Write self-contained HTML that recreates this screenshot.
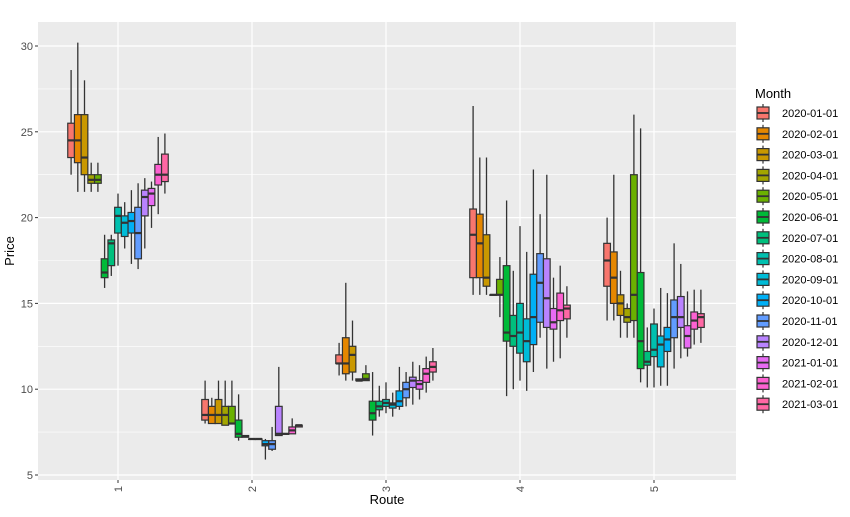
<!DOCTYPE html>
<html><head><meta charset="utf-8"><style>
body{margin:0;background:#fff;width:850px;height:512px;overflow:hidden}
text{font-family:"Liberation Sans",sans-serif}
</style></head><body>
<svg id="chart" width="850" height="512" viewBox="0 0 850 512" xmlns="http://www.w3.org/2000/svg"></svg>
<script>
const routes = ["1","2","3","4","5"];
const months = ["2020-01-01","2020-02-01","2020-03-01","2020-04-01","2020-05-01","2020-06-01","2020-07-01","2020-08-01","2020-09-01","2020-10-01","2020-11-01","2020-12-01","2021-01-01","2021-02-01","2021-03-01"];
const colors = ["#F8766D","#E58700","#C99800","#A3A500","#6BB100","#00BA38","#00BF7D","#00C0AF","#00BCD8","#00B0F6","#619CFF","#B983FF","#E76BF3","#FD61D1","#FF67A4"];
const yTicks = [5,10,15,20,25,30];
// [upper whisker, q3, median, q1, lower whisker] per month, per route
const route1 = [[28.6,25.5,24.5,23.5,22.5],[30.2,26,24.5,23.2,21.5],[28,26,23.5,22.5,21.5],[23.2,22.5,22.2,22,21.5],[23.2,22.5,22.2,22,21.5],[19,17.6,16.8,16.5,15.9],[19,18.7,18.5,17.2,16.6],[21.4,20.6,20.1,19.1,17.2],[20.9,20.1,19.7,18.9,18.2],[21.6,20.3,19.8,19.1,17.3],[22,20.6,19.1,17.6,17],[22.3,21.6,21.2,20.1,18.2],[22.1,21.7,21.4,20.7,19.4],[24.7,23.1,22.5,21.9,20.2],[24.9,23.7,22.5,22.1,21.4]];
const route2 = [[10.5,9.4,8.5,8.2,8.0],[9.5,9.0,8.5,8.0,8.0],[10.5,9.4,8.5,8.0,8.0],[10.5,9.0,8.5,7.9,7.9],[10.5,9.0,8.0,8.0,8.0],[9.7,8.2,7.4,7.2,7.0],[7.3,7.3,7.25,7.2,7.2],[7.1,7.1,7.1,7.1,7.1],[7.1,7.1,7.1,7.1,7.1],[7.1,7.0,6.8,6.7,5.9],[7.8,7.0,6.8,6.5,6.4],[11.3,9.0,7.4,7.3,7.3],[7.4,7.4,7.4,7.4,7.4],[8.3,7.8,7.6,7.4,7.4],[7.9,7.9,7.9,7.8,7.8]];
const route3 = [[12.7,12.0,11.5,11.5,10.8],[16.2,13.0,11.5,10.9,10.5],[14.0,12.5,12.0,11.0,10.5],[10.6,10.6,10.5,10.5,10.5],[11.4,10.9,10.6,10.5,10.5],[11.0,9.3,8.6,8.2,7.3],[10.2,9.3,9.0,8.8,8.4],[10.4,9.4,9.2,9.0,8.6],[9.8,9.2,9.1,8.9,8.4],[11.3,9.9,9.3,9.0,8.8],[11.0,10.4,10.0,9.5,9.0],[11.6,10.7,10.5,10.1,9.1],[11.4,10.5,10.3,10.0,9.4],[11.9,11.2,10.9,10.4,9.8],[12.4,11.6,11.3,11.0,10.5]];
const route4 = [[26.5,20.5,19.0,16.5,15.5],[23.5,20.2,18.5,16.5,15.5],[23.5,19.0,16.5,16.0,15.5],[15.5,15.5,15.5,15.5,15.5],[17.7,16.4,15.5,15.5,14.2],[21.0,17.2,13.3,12.8,9.6],[16.9,14.3,13.1,12.5,10.0],[19.5,15.0,13.3,12.1,10.5],[18.0,14.1,12.8,11.6,9.9],[22.8,16.7,14.2,12.6,11.0],[20.2,17.9,16.2,13.9,13.0],[22.5,17.6,15.3,13.6,11.2],[16.5,14.7,13.9,13.5,11.6],[17.2,15.6,14.6,14.0,11.8],[16.0,14.9,14.7,14.1,13.0]];
const route5 = [[20.0,18.5,17.5,16.0,14.0],[22.5,18.0,16.5,15.0,14.0],[16.9,15.5,15.0,14.3,13.0],[15.0,14.7,14.2,13.9,13.0],[26.0,22.5,15.5,14.0,13.0],[25.2,16.8,12.8,11.2,10.4],[13.6,12.2,11.6,11.4,10.1],[14.7,13.8,12.3,11.9,10.1],[15.9,13.1,12.6,11.3,10.2],[15.6,13.6,12.9,12.2,10.2],[18.5,15.2,14.2,13.0,11.2],[17.3,15.4,14.2,13.6,11.8],[15.7,13.7,13.1,12.4,11.9],[15.8,14.5,14.0,13.5,12.6],[15.8,14.4,14.2,13.6,12.7]];
const allRoutes = [route1,route2,route3,route4,route5];

const NS="http://www.w3.org/2000/svg";
const svg=document.getElementById('chart');
const P={l:38,r:736,t:22,b:480};
const yScale=v=>475-(v-5)*17.16;
const xScale=i=>118+i*134;
function mk(tag,attrs,parent){const e=document.createElementNS(NS,tag);for(const k in attrs)e.setAttribute(k,attrs[k]);(parent||svg).appendChild(e);return e;}

const panel=mk('rect',{x:P.l,y:P.t,width:P.r-P.l,height:P.b-P.t,fill:'#EBEBEB'});


const grid=mk('g',{});


for(let i=0;i<yTicks.length-1;i++){const v=(yTicks[i]+yTicks[i+1])/2;mk('line',{x1:P.l,x2:P.r,y1:yScale(v),y2:yScale(v),stroke:'#fff','stroke-width':0.6},grid);}
yTicks.forEach(v=>{mk('line',{x1:P.l,x2:P.r,y1:yScale(v),y2:yScale(v),stroke:'#fff','stroke-width':1.2},grid);});
routes.forEach((r,i)=>{mk('line',{x1:xScale(i),x2:xScale(i),y1:P.t,y2:P.b,stroke:'#fff','stroke-width':1.2},grid);});

const yAxis=mk('g',{});


yTicks.forEach(v=>{const y=yScale(v);mk('line',{x1:P.l-3,x2:P.l,y1:y,y2:y,stroke:'#333'},yAxis);
 const t=mk('text',{x:P.l-5,y:y+4,'text-anchor':'end','font-size':11,fill:'#4D4D4D'},yAxis);t.textContent=v;
 });
const xAxis=mk('g',{});


routes.forEach((r,i)=>{const x=xScale(i);mk('line',{x1:x,x2:x,y1:P.b,y2:P.b+3,stroke:'#333'},xAxis);
 const t=mk('text',{x:0,y:0,'font-size':11,fill:'#4D4D4D','text-anchor':'end',transform:`translate(${x+4},${P.b+6}) rotate(-90)`},xAxis);t.textContent=r;
 });
const xt=mk('text',{x:(P.l+P.r)/2,y:504,'text-anchor':'middle','font-size':13,fill:'#000'});xt.textContent='Route';

const yt=mk('text',{x:0,y:0,'text-anchor':'middle','font-size':13,fill:'#000',transform:`translate(14,${(P.t+P.b)/2}) rotate(-90)`});yt.textContent='Price';


const bw=134*0.75/15;
allRoutes.forEach((rd,ri)=>{
 const g=mk('g',{});
 
 
 rd.forEach((d,mi)=>{
  const x0=xScale(ri)-134*0.375+mi*bw, xc=x0+bw/2;
  const bg=mk('g',{},g);
  
  
  mk('line',{x1:xc,x2:xc,y1:yScale(d[0]),y2:yScale(d[4]),stroke:'#333','stroke-width':1.3},bg);
  const h=Math.max(yScale(d[3])-yScale(d[1]),0.5);
  mk('rect',{x:x0,y:yScale(d[1]),width:bw,height:h,fill:colors[mi],stroke:'#333','stroke-width':1.2},bg);
  mk('line',{x1:x0,x2:x0+bw,y1:yScale(d[2]),y2:yScale(d[2]),stroke:'#333','stroke-width':2.2},bg);
 });
});

const lg=mk('g',{});


const lt=mk('text',{x:755,y:98,'font-size':13,fill:'#000'},lg);lt.textContent='Month';

months.forEach((m,i)=>{const y=113+i*20.8;
 const e=mk('g',{},lg);
 
 
 mk('line',{x1:763,x2:763,y1:y-9,y2:y+9,stroke:'#333','stroke-width':1.2},e);
 mk('rect',{x:757,y:y-6,width:12,height:12,fill:colors[i],stroke:'#333','stroke-width':1.2},e);
 mk('line',{x1:757,x2:769,y1:y,y2:y,stroke:'#333','stroke-width':1.8},e);
 const t=mk('text',{x:782,y:y+4,'font-size':11,fill:'#000'},e);t.textContent=m;
});
</script>
</body></html>
